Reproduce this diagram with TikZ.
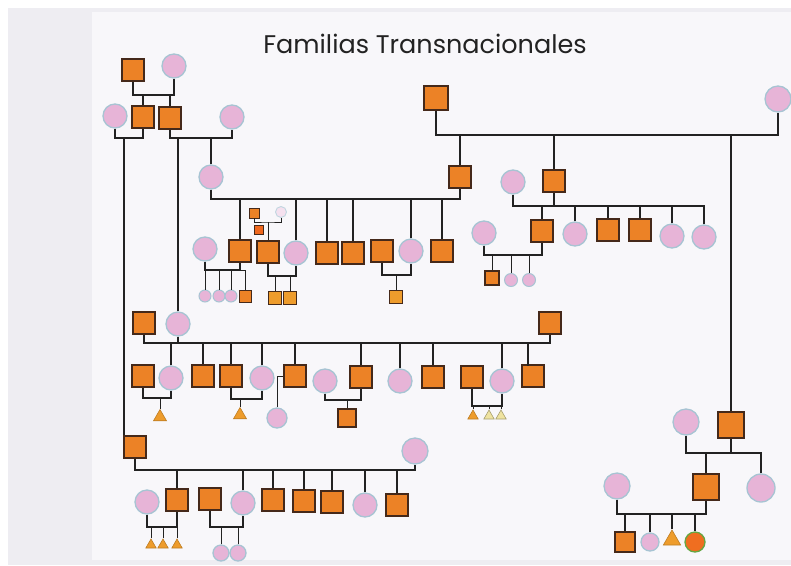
\documentclass[tikz,border=0pt]{standalone}
\usepackage{fontspec}
\newfontfamily\titlefont{Poppins}
\usetikzlibrary{shapes.geometric}
\definecolor{inkline}{HTML}{222222}
\definecolor{malefill}{HTML}{EC8226}
\definecolor{maleedge}{HTML}{45291A}
\definecolor{femfill}{HTML}{E7B4D7}
\definecolor{femedge}{HTML}{A7C4D3}
\definecolor{trifill}{HTML}{EE9C2C}
\definecolor{paleyel}{HTML}{EFE3A0}
\definecolor{photobg}{HTML}{EEEDF2}
\definecolor{paperbg}{HTML}{F8F7FA}
\tikzset{
  male/.style={rectangle, draw=maleedge, fill=malefill, line width=1.1pt, minimum size=22pt, inner sep=0pt},
  fem/.style={circle, draw=femedge, fill=femfill, line width=1.3pt, minimum size=24pt, inner sep=0pt},
  unk/.style={regular polygon, regular polygon sides=3, fill=trifill, draw=trifill!80!black, line width=0.6pt, minimum size=15pt, inner sep=0pt},
  link/.style={draw=inkline, line width=1.3pt},
}
\begin{document}
\begin{tikzpicture}[x=1pt, y=-1pt]
% page and photographed sheet
\fill[white] (0,0) rectangle (791,565);
\fill[photobg] (8,8) rectangle (791,565);
\fill[paperbg] (92,12) rectangle (791,560);
\useasboundingbox (0,0) rectangle (791,565);

\node[font=\titlefont\fontsize{25.5}{25.5}\selectfont, text=inkline] (title) at (425,44) {Familias Transnacionales};

% ---------- left branch, first generations ----------
\node[male] (g1m) at (133,70) {};
\node[fem]  (g1f) at (174,66) {};
\node[male] (sA) at (143,117) {};
\node[male] (sB) at (170,118) {};
\node[fem]  (wA) at (115,116) {};
\node[fem]  (wB) at (232,117) {};
\coordinate (c1) at (153,95);
\draw[link] (g1m.south) |- (c1) -| (g1f.south);
\draw[link] (sA.north) |- (c1);
\draw[link] (sB.north) |- (c1);

\coordinate (c2) at (129,138);
\coordinate (c2a) at (124,138);
\draw[link] (wA.south) |- (c2) -| (sA.south);
\coordinate (c3) at (200,138);
\draw[link] (sB.south) |- (c3) -| (wB.south);

\node[fem] (h) at (211,177) {};
\draw[link] (h.north) |- (c3);

% ---------- right branch, top ----------
\node[male, minimum size=24pt] (tgf) at (436,98) {};
\node[fem, minimum size=26pt]  (tgm) at (778,99) {};
\coordinate (c9) at (600,135);
\draw[link] (tgf.south) |- (c9) -| (tgm.south);
\node[male] (sJ) at (460,177) {};
\node[male] (sR) at (554,181) {};
\node[fem]  (wR) at (513,182) {};
\draw[link] (sJ.north) |- (c9);
\draw[link] (sR.north) |- (c9);

% Helena and Juan, with their children
\coordinate (c4) at (335,199);
\draw[link] (h.south) |- (c4) -| (sJ.south);
\node[fem]  (wS) at (205,249) {};
\node[male] (k1) at (240,251) {};
\node[male] (k7) at (268,252) {};
\node[fem]  (k2) at (296,253) {};
\node[male] (k3) at (327,253) {};
\node[male] (k4) at (353,253) {};
\node[male] (k8) at (382,251) {};
\node[fem]  (k5) at (411,251) {};
\node[male] (k6) at (442,251) {};
\draw[link] (k1.north) |- (c4);
\draw[link] (k2.north) |- (c4);
\draw[link] (k3.north) |- (c4);
\draw[link] (k4.north) |- (c4);
\draw[link] (k5.north) |- (c4);
\draw[link] (k6.north) |- (c4);

% small couple above k7
\node[male, minimum size=10pt, line width=0.8pt] (sm1) at (254,213) {};
\node[fem, minimum size=11pt, line width=0.9pt, fill=femfill!40, draw=femedge!70] (sm2) at (281,212) {};
\node[male, minimum size=9pt, line width=0.8pt, fill=malefill!80!red] (sm3) at (259,230) {};
\coordinate (c5) at (268,222);
\draw[link, line width=1pt] (sm1.south) |- (c5) -| (sm2.south);
\draw[link, line width=1pt] (k7.north) |- (c5);

% grandchildren row
\coordinate (c6) at (224,270);
\draw[link] (wS.south) |- (c6) -| (k1.south);
\node[fem, minimum size=12pt, line width=1pt] (n1) at (205,296) {};
\node[fem, minimum size=12pt, line width=1pt] (n2) at (219,296) {};
\node[fem, minimum size=12pt, line width=1pt] (n3) at (231,296) {};
\node[male, minimum size=12pt, line width=0.9pt] (n4) at (245,296) {};
\draw[link, line width=1pt] (n1.north) |- (c6);
\draw[link, line width=1pt] (n2.north) |- (c6);
\draw[link, line width=1pt] (n3.north) |- (c6);
\draw[link, line width=1pt] (n4.north) |- (c6);

\coordinate (c7) at (282,276);
\draw[link] (k7.south) |- (c7) -| (k2.south);
\node[male, minimum size=13pt, fill=trifill] (m1) at (275,298) {};
\node[male, minimum size=13pt, fill=trifill] (m2) at (290,298) {};
\draw[link, line width=1pt] (m1.north) |- (c7);
\draw[link, line width=1pt] (m2.north) |- (c7);

\coordinate (c8) at (396,275);
\draw[link] (k8.south) |- (c8) -| (k5.south);
\node[male, minimum size=13pt, fill=trifill] (m3) at (396,297) {};
\draw[link, line width=1pt] (m3.north) -- (c8);

% Catherine and her husband, with their children
\coordinate (c10) at (610,206);
\draw[link] (wR.south) |- (c10) -| (sR.south);
\node[male] (r1) at (542,231) {};
\node[fem]  (r2) at (575,234) {};
\node[male] (r3) at (608,230) {};
\node[male] (r4) at (640,230) {};
\node[fem]  (r5) at (672,236) {};
\node[fem]  (r6) at (704,237) {};
\draw[link] (r1.north) |- (c10);
\draw[link] (r2.north) |- (c10);
\draw[link] (r3.north) |- (c10);
\draw[link] (r4.north) |- (c10);
\draw[link] (r5.north) |- (c10);
\draw[link] (r6.north) |- (c10);

\node[fem] (wS2) at (484,233) {};
\coordinate (c11) at (514,255);
\draw[link] (wS2.south) |- (c11) -| (r1.south);
\node[male, minimum size=14pt] (p1) at (492,278) {};
\node[fem, minimum size=13pt, line width=1pt] (p2) at (511,280) {};
\node[fem, minimum size=13pt, line width=1pt] (p3) at (529,280) {};
\draw[link, line width=1pt] (p1.north) |- (c11);
\draw[link, line width=1pt] (p2.north) |- (c11);
\draw[link, line width=1pt] (p3.north) |- (c11);

% ---------- middle generation ----------
\node[male] (sM) at (144,323) {};
\node[fem]  (wC) at (178,324) {};
\draw[link] (wC.north) |- (c3);
\node[male] (sQ) at (550,323) {};
\coordinate (c12) at (350,343);
\draw[link] (sM.south) |- (c12);
\draw[link] (wC.south) -- (wC.south |- c12);
\draw[link] (sQ.south) |- (c12);

\node[male] (q0) at (143,376) {};
\node[fem]  (q1) at (171,378) {};
\node[male] (q2) at (203,376) {};
\node[male] (q3) at (231,376) {};
\node[fem]  (q4) at (262,378) {};
\node[male] (q5) at (295,376) {};
\node[fem]  (q7) at (325,381) {};
\node[male] (q8) at (361,377) {};
\node[fem]  (q10) at (400,381) {};
\node[male] (q11) at (433,377) {};
\node[male] (q12) at (472,377) {};
\node[fem]  (q13) at (502,381) {};
\node[male] (q14) at (533,376) {};
\draw[link] (q1.north) |- (c12);
\draw[link] (q2.north) |- (c12);
\draw[link] (q3.north) |- (c12);
\draw[link] (q4.north) |- (c12);
\draw[link] (q5.north) |- (c12);
\draw[link] (q8.north) |- (c12);
\draw[link] (q10.north) |- (c12);
\draw[link] (q11.north) |- (c12);
\draw[link] (q13.north) |- (c12);
\coordinate (q14t) at (528,366);
\draw[link] (q14t) |- (c12);

\coordinate (c13) at (157,398);
\draw[link] (q0.south) |- (c13) -| (q1.south);
\node[unk] (t1) at (160,417) {};
\draw[link, line width=1pt] (t1.north) |- (c13);

\coordinate (c14) at (246,399);
\draw[link] (q3.south) |- (c14) -| (q4.south);
\node[unk] (t2) at (240,415) {};
\draw[link, line width=1pt] (t2.north) |- (c14);

\node[fem, minimum size=20pt] (q6) at (277,418) {};
\draw[link, line width=1pt] (q5.west) -| (q6.north);

\coordinate (c15) at (343,400);
\draw[link] (q7.south) |- (c15) -| (q8.south);
\node[male, minimum size=18pt] (q9) at (347,418) {};
\draw[link, line width=1pt] (q9.north) |- (c15);

\coordinate (c16) at (487,406);
\draw[link] (q12.south) |- (c16) -| (q13.south);
\node[unk, minimum size=12pt] (t3) at (473,416) {};
\node[unk, minimum size=12pt, fill=paleyel, draw=paleyel!70!black] (t4) at (489,416) {};
\node[unk, minimum size=12pt, fill=paleyel, draw=paleyel!70!black] (t5) at (501,416) {};
\draw[link, line width=0.9pt] (t3.north) |- (c16);
\draw[link, line width=0.9pt] (t4.north) |- (c16);
\draw[link, line width=0.9pt] (t5.north) |- (c16);

% ---------- lower left family ----------
\node[male] (sC) at (135,447) {};
\draw[link] (c2a) -- (c2a |- sC.north);
\node[fem, minimum size=26pt] (wD) at (415,451) {};
\coordinate (c17) at (275,470);
\draw[link] (sC.south) |- (c17) -| (wD.south);

\node[fem]  (b0) at (147,502) {};
\node[male] (b1) at (177,500) {};
\node[male] (b2) at (210,499) {};
\node[fem]  (b3) at (243,503) {};
\node[male] (b4) at (273,500) {};
\node[male] (b5) at (304,501) {};
\node[male] (b6) at (332,502) {};
\node[fem]  (b7) at (365,505) {};
\node[male] (b8) at (397,505) {};
\draw[link] (b1.north) |- (c17);
\draw[link] (b3.north) |- (c17);
\draw[link] (b4.north) |- (c17);
\draw[link] (b5.north) |- (c17);
\draw[link] (b6.north) |- (c17);
\draw[link] (b7.north) |- (c17);
\draw[link] (b8.north) |- (c17);

\coordinate (c18) at (162,527);
\draw[link] (b0.south) |- (c18) -| (b1.south);
\node[unk, minimum size=12pt] (t6) at (151,545) {};
\node[unk, minimum size=12pt] (t7) at (163,545) {};
\node[unk, minimum size=12pt] (t8) at (177,545) {};
\draw[link, line width=1pt] (t6.north) |- (c18);
\draw[link, line width=1pt] (t7.north) |- (c18);
\draw[link, line width=1pt] (t8.north) |- (c18);

\coordinate (c19) at (226,527);
\draw[link] (b2.south) |- (c19) -| (b3.south);
\node[fem, minimum size=16pt] (d1) at (221,553) {};
\node[fem, minimum size=16pt] (d2) at (238,553) {};
\draw[link, line width=1pt] (d1.north) |- (c19);
\draw[link, line width=1pt] (d2.north) |- (c19);

% ---------- lower right family ----------
\node[male, minimum size=26pt] (sE) at (731,425) {};
\draw[link] (sE.north) |- (c9);
\node[fem, minimum size=26pt] (wE) at (686,422) {};
\coordinate (c20) at (723,453);
\draw[link] (wE.south) |- (c20) -| (sE.south);
\node[male, minimum size=26pt] (e1) at (706,487) {};
\node[fem, minimum size=28pt]  (e2) at (761,488) {};
\draw[link] (e1.north) |- (c20);
\draw[link] (e2.north) |- (c20);

\node[fem, minimum size=26pt] (wF) at (617,486) {};
\coordinate (c21) at (660,514);
\draw[link] (wF.south) |- (c21) -| (e1.south);
\node[male, minimum size=20pt] (f1) at (625,542) {};
\node[fem, minimum size=18pt]  (f2) at (650,542) {};
\node[unk, minimum size=20pt]  (f3) at (672,540) {};
\node[fem, minimum size=20pt, fill=malefill!85!red, draw=paleyel!60!green!70!black] (f4) at (695,542) {};
\draw[link] (f1.north) |- (c21);
\draw[link] (f2.north) |- (c21);
\draw[link] (f3.north) |- (c21);
\draw[link] (f4.north) |- (c21);
\end{tikzpicture}
\end{document}
